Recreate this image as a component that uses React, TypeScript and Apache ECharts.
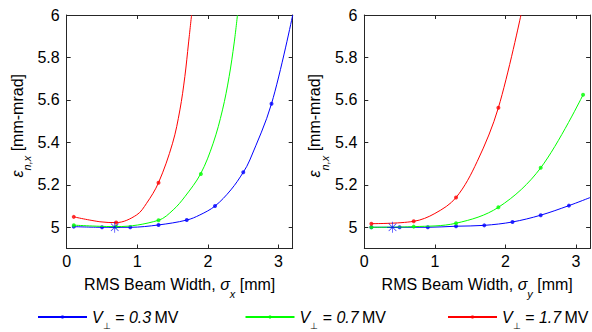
import React, { useEffect, useRef } from 'react';
import * as echarts from 'echarts';

// ---------- data ----------
const xTickValues = [0, 1, 2, 3];
const yTickValues = [5, 5.2, 5.4, 5.6, 5.8, 6];
const voltageLabels = ['0.3', '0.7', '1.7'];
const seriesNames = ['V⊥ = 0.3 MV', 'V⊥ = 0.7 MV', 'V⊥ = 1.7 MV'];
const seriesColors = ['#0000ff', '#00ff00', '#ff0000'];

// left panel: sigma_x
const leftBlueCurveX = [0.1, 0.5, 0.9, 1.3, 1.7, 1.885, 2.1, 2.324, 2.5, 2.593, 2.9, 3.2];
const leftBlueCurveY = [5.003, 5.0, 5.0, 5.011, 5.034, 5.058, 5.1, 5.176, 5.259, 5.317, 5.582, 6.0];
const leftBlueMarkX = [0.1, 0.5, 0.9, 1.3, 1.7, 2.1, 2.5, 2.9];
const leftBlueMarkY = [5.003, 5.0, 5.0, 5.011, 5.034, 5.1, 5.259, 5.582];

const leftGreenCurveX = [0.1, 0.7, 1.3, 1.508, 1.673, 1.895, 2.074, 2.206, 2.3, 2.371, 2.418];
const leftGreenCurveY = [5.01, 5.003, 5.033, 5.082, 5.144, 5.251, 5.396, 5.553, 5.71, 5.868, 6.0];
const leftGreenMarkX = [0.1, 0.7, 1.3, 1.9];
const leftGreenMarkY = [5.01, 5.003, 5.033, 5.251];

const leftRedCurveX = [0.1, 0.47, 0.7, 0.99, 1.131, 1.3, 1.499, 1.603, 1.673, 1.725, 1.768];
const leftRedCurveY = [5.049, 5.026, 5.022, 5.058, 5.113, 5.21, 5.396, 5.553, 5.71, 5.868, 6.0];
const leftRedMarkX = [0.1, 0.7, 1.3];
const leftRedMarkY = [5.049, 5.022, 5.21];

const leftOptimumX = [0.68];
const leftOptimumY = [5.0];

// right panel: sigma_y
const rightBlueCurveX = [0.1, 0.5, 0.9, 1.3, 1.7, 2.1, 2.5, 2.9, 3.2];
const rightBlueCurveY = [5.0, 5.0, 5.0, 5.005, 5.009, 5.025, 5.057, 5.102, 5.14];
const rightBlueMarkX = [0.1, 0.5, 0.9, 1.3, 1.7, 2.1, 2.5, 2.9];
const rightBlueMarkY = [5.0, 5.0, 5.0, 5.005, 5.009, 5.025, 5.057, 5.102];

const rightGreenCurveX = [0.1, 0.7, 1.3, 1.9, 2.5, 3.1];
const rightGreenCurveY = [5.0, 5.003, 5.019, 5.094, 5.28, 5.624];
const rightGreenMarkX = [0.1, 0.7, 1.3, 1.9, 2.5, 3.1];
const rightGreenMarkY = [5.0, 5.003, 5.019, 5.094, 5.28, 5.624];

const rightRedCurveX = [0.1, 0.7, 1.0, 1.3, 1.6, 1.9, 2.22];
const rightRedCurveY = [5.017, 5.028, 5.065, 5.14, 5.31, 5.563, 6.0];
const rightRedMarkX = [0.1, 0.7, 1.3, 1.9];
const rightRedMarkY = [5.017, 5.028, 5.14, 5.563];

const rightOptimumX = [0.4];
const rightOptimumY = [5.0];

// ---------- styling ----------
const FONT = '"Liberation Sans", Arial, Helvetica, sans-serif';
const AXIS_COLOR = '#262626';
const ASTERISK =
  'path://M9.35 0L10.65 0L10.65 20L9.35 20Z M0 9.35L20 9.35L20 10.65L0 10.65Z M2.6 3.5L3.5 2.6L17.4 16.5L16.5 17.4Z M16.5 2.6L17.4 3.5L3.5 17.4L2.6 16.5Z';

const rich = {
  t: { fontSize: 16, fontFamily: FONT, color: '#000' },
  g: { fontSize: 16, fontFamily: FONT, fontStyle: 'italic', color: '#000' },
  s: { fontSize: 11, fontFamily: FONT, fontStyle: 'italic', color: '#000', padding: [20, 0, 0, 0] },
  p: { fontSize: 9, fontFamily: FONT, color: '#000', padding: [18, 0, 0, 0] },
};

const pairs = (xs: number[], ys: number[]) => xs.map((x, i) => [x, ys[i]]);

export default function App() {
  const ref = useRef<HTMLDivElement>(null);

  useEffect(() => {
    if (!ref.current) return;
    const chart = echarts.init(ref.current, null, { renderer: 'svg' });

    const axisLineStyle = { color: AXIS_COLOR, width: 1 };
    const grids = [
      { left: 66.7, top: 15, width: 226, height: 233.5 },
      { left: 364.3, top: 15, width: 225.8, height: 233.5 },
    ];
    const xTitles = [
      '{t|RMS Beam Width, }{g|σ}{s|x}{t| [mm]}',
      '{t|RMS Beam Width, }{g|σ}{s|y}{t| [mm]}',
    ];

    const xAxis: any[] = [];
    const yAxis: any[] = [];
    [0, 1].forEach((gi) => {
      xAxis.push({
        type: 'value', gridIndex: gi, min: 0, max: 3.2, position: 'bottom',
        axisLine: { show: true, onZero: false, lineStyle: axisLineStyle },
        axisTick: { show: true, inside: true, length: 4, customValues: xTickValues, lineStyle: axisLineStyle },
        axisLabel: { show: true, customValues: xTickValues, margin: 5, fontSize: 16, fontFamily: FONT, color: '#000' },
        splitLine: { show: false },
        name: xTitles[gi], nameLocation: 'middle', nameGap: 20,
        nameTextStyle: { rich },
      });
      xAxis.push({
        type: 'value', gridIndex: gi, min: 0, max: 3.2, position: 'top',
        axisLine: { show: true, onZero: false, lineStyle: axisLineStyle },
        axisTick: { show: true, inside: true, length: 4, customValues: xTickValues, lineStyle: axisLineStyle },
        axisLabel: { show: false },
        splitLine: { show: false },
      });
      yAxis.push({
        type: 'value', gridIndex: gi, min: 4.9, max: 6, position: 'left',
        axisLine: { show: true, onZero: false, lineStyle: axisLineStyle },
        axisTick: { show: true, inside: true, length: 4, customValues: yTickValues, lineStyle: axisLineStyle },
        axisLabel: { show: true, customValues: yTickValues, margin: 7, fontSize: 16, fontFamily: FONT, color: '#000' },
        splitLine: { show: false },
        name: '{g|ε}{s|n,x}{t| [mm-mrad]}', nameLocation: 'middle', nameGap: 34, nameRotate: 90,
        nameTextStyle: { rich, padding: [0, 0, 0, 12] },
      });
      yAxis.push({
        type: 'value', gridIndex: gi, min: 4.9, max: 6, position: 'right',
        axisLine: { show: true, onZero: false, lineStyle: axisLineStyle },
        axisTick: { show: true, inside: true, length: 4, customValues: yTickValues, lineStyle: axisLineStyle },
        axisLabel: { show: false },
        splitLine: { show: false },
      });
    });

    const line = (k: number, xs: number[], ys: number[], gi: number) => ({
      type: 'line', name: seriesNames[k], xAxisIndex: gi * 2, yAxisIndex: gi * 2,
      data: pairs(xs, ys), smooth: 0.35, showSymbol: false, symbol: 'circle',
      lineStyle: { color: seriesColors[k], width: 1 }, itemStyle: { color: seriesColors[k] },
      silent: true, z: 2 + k,
    });
    const marks = (k: number, xs: number[], ys: number[], gi: number) => ({
      type: 'scatter', name: seriesNames[k], xAxisIndex: gi * 2, yAxisIndex: gi * 2,
      data: pairs(xs, ys), symbol: 'circle', symbolSize: 4,
      itemStyle: { color: seriesColors[k] }, silent: true, z: 2 + k,
    });
    const star = (xs: number[], ys: number[], gi: number) => ({
      type: 'scatter', name: 'optimum', xAxisIndex: gi * 2, yAxisIndex: gi * 2,
      data: pairs(xs, ys), symbol: ASTERISK, symbolSize: 11,
      itemStyle: { color: '#0000ff' }, silent: true, z: 10,
    });

    const series = [
      line(0, leftBlueCurveX, leftBlueCurveY, 0),
      line(1, leftGreenCurveX, leftGreenCurveY, 0),
      line(2, leftRedCurveX, leftRedCurveY, 0),
      marks(0, leftBlueMarkX, leftBlueMarkY, 0),
      marks(1, leftGreenMarkX, leftGreenMarkY, 0),
      marks(2, leftRedMarkX, leftRedMarkY, 0),
      star(leftOptimumX, leftOptimumY, 0),
      line(0, rightBlueCurveX, rightBlueCurveY, 1),
      line(1, rightGreenCurveX, rightGreenCurveY, 1),
      line(2, rightRedCurveX, rightRedCurveY, 1),
      marks(0, rightBlueMarkX, rightBlueMarkY, 1),
      marks(1, rightGreenMarkX, rightGreenMarkY, 1),
      marks(2, rightRedMarkX, rightRedMarkY, 1),
      star(rightOptimumX, rightOptimumY, 1),
    ];

    const legendLefts = [37, 244.5, 447];
    const legend = seriesNames.map((name, k) => ({
      data: [name], left: legendLefts[k], top: 309, padding: 0,
      itemWidth: 49, itemHeight: 4, itemGap: 0, selectedMode: false,
      formatter: () => '{g|V}{p|⊥}{g| = ' + voltageLabels[k] + '} {t|MV}',
      textStyle: { rich },
    }));

    chart.setOption({
      animation: false,
      backgroundColor: '#fff',
      grid: grids,
      xAxis,
      yAxis,
      legend,
      series,
    } as any);

    return () => chart.dispose();
  }, []);

  return (
    <div
      ref={ref}
      style={{ position: 'fixed', left: 0, top: 0, width: 592, height: 332 }}
    />
  );
}
